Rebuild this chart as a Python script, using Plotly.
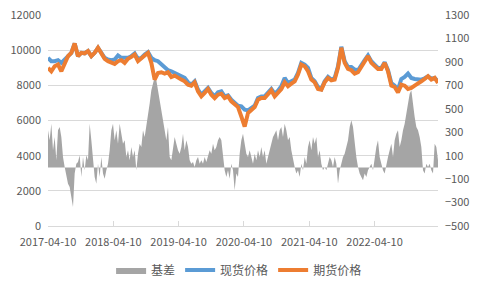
import pandas as pd
import plotly.graph_objects as go

start_date = "2017-04-10"
end_date = "2023-03-31"

basis = [
    316, 231, 373, 146, 259, 60, 316, 345, 259, 89, 3, -82, -139, -167, -253, -338, -53, 32, 46, 103,
    -82, 89, -25, 103, 60, 373, 231, 46, -82, -139, 32, -82, 89, -53, -96, -25, 32, 146, 316, 373,
    231, 316, 202, 373, 288, 202, 231, 89, 146, 60, 174, 89, 146, -25, 117, 202, 174, 316, 259, 345,
    430, 544, 658, 714, 771, 743, 658, 601, 487, 430, 316, 231, 345, 89, 60, 174, 259, 202, 146,
    117, 174, 288, 146, 231, 174, 60, 32, 46, 3, 60, 89, 32, 60, 32, 89, 46, 89, 146, 117,
    202, 146, 174, 231, 259, 231, 89, -25, -82, -25, -96, 32, -25, -196, -53, -82, 117, 231, 288, 202,
    117, 89, 146, 89, 32, 117, 60, 146, 89, 174, 89, 146, 32, 89, 146, 202, 259, 288, 316, 231,
    316, 345, 259, 373, 316, 231, 259, 146, 60, 3, -53, -25, -82, 32, -25,
    89, 32, 174, 231, 146, 259, 202, 259, 89, 146, 32, -25, 3, -25, 32, 89, 60, 3, 89, 32,
    -139, -25, 32, 89, 117, 174, 231, 345, 402, 345, 202, 89, 3, -53, -82, -110, -53, -82, -25, 3,
    32, -25, 89, 174, 231, 89, 32, -25, -53, 32, 89, 146, 202, 89, 231, 288, 316, 174, 231, 316,
    373, 458, 544, 629, 658, 515, 430, 345, 316, 259, 174, -25, -53, 32, 3, 32, -25, -53, 202, 174, 60,
]

spot = [
    9563, 9373, 9373, 9430, 9277, 9468, 9696, 9849, 10382, 9658, 9849, 9811, 9944, 9658, 9849, 10135, 9849, 9563, 9468, 9430,
    9468, 9696, 9563, 9563, 9563, 9658, 9811, 9506, 9563, 9754, 9887, 9563, 9430, 9373, 9182, 8992, 8858, 8801, 8706, 8668,
    8553, 8420, 8172, 8039, 8230, 7753, 7468, 7658, 7849, 7563, 7372, 7601, 7658, 7372, 7430, 7182, 6991, 6839, 6801, 6610,
    6572, 6706, 6839, 7277, 7372, 7372, 7563, 7791, 7525, 7696, 7944, 8420, 8134, 8230, 8325, 8706, 9277, 9182,
    8992, 8420, 8230, 7906, 7791, 8230, 8477, 8325, 8420, 9087, 10192, 9373, 9049, 9049, 8896, 8858, 9182, 9430, 9696, 9373,
    9182, 8992, 8992, 9315, 8858, 8134, 7982, 7753, 8363, 8477, 8668, 8420, 8363, 8363, 8325, 8401, 8515, 8382, 8420, 8230,
]

futures = [
    8992, 8801, 9087, 9182, 8801, 9277, 9658, 9849, 10382, 9658, 9849, 9811, 9944, 9658, 9849, 10135, 9849, 9506, 9373, 9277,
    9220, 9373, 9430, 9277, 9506, 9620, 9754, 9373, 9506, 9696, 9849, 9277, 8325, 8706, 8744, 8668, 8744, 8477, 8553, 8420,
    8325, 8230, 8039, 7982, 8172, 7658, 7372, 7563, 7791, 7468, 7277, 7468, 7525, 7277, 7372, 7087, 6896, 6763, 6229, 5658,
    6420, 6610, 6763, 7182, 7277, 7277, 7468, 7715, 7372, 7563, 7791, 8172, 7944, 8096, 8230, 8611, 9182, 9087,
    8801, 8325, 8172, 7791, 7753, 8172, 8420, 8287, 8325, 8992, 10135, 9277, 8934, 8858, 8668, 8744, 9087, 9373, 9658, 9277,
    9125, 8934, 8934, 9277, 8801, 7982, 7906, 7601, 8039, 7982, 7791, 7849, 7982, 8134, 8230, 8363, 8515, 8325, 8420, 8134,
]

tick_dates = ["2017-04-10", "2018-04-10", "2019-04-10", "2020-04-10", "2021-04-10", "2022-04-10"]
left_ticks = [0, 2000, 4000, 6000, 8000, 10000, 12000]
right_ticks = [-500, -300, -100, 100, 300, 500, 700, 900, 1100, 1300]

basis_dates = pd.date_range(start_date, end_date, periods=len(basis))
price_dates = pd.date_range(start_date, end_date, periods=len(spot))

FONT = "Noto Sans CJK SC"
TXT = "#595959"
GRID = "#D9D9D9"

fig = go.Figure()
fig.add_trace(go.Scatter(
    x=basis_dates, y=basis, name="基差", yaxis="y", mode="lines",
    line=dict(width=0, color="#A5A5A5"), fill="tozeroy", fillcolor="#A5A5A5",
))
fig.add_trace(go.Scatter(
    x=price_dates, y=spot, name="现货价格", yaxis="y2", mode="lines",
    line=dict(width=4, color="#5B9BD5"),
))
fig.add_trace(go.Scatter(
    x=price_dates, y=futures, name="期货价格", yaxis="y2", mode="lines",
    line=dict(width=4, color="#ED7D31"),
))

fig.update_layout(
    width=480, height=289,
    margin=dict(l=48, r=42, t=15, b=63, autoexpand=False),
    paper_bgcolor="white", plot_bgcolor="white",
    font=dict(family=FONT, size=11, color=TXT),
    showlegend=True,
    legend=dict(orientation="h", x=0.49, xanchor="center",
                yref="container", y=0.066, yanchor="middle",
                font=dict(size=12, color=TXT), itemwidth=30, traceorder="normal"),
    xaxis=dict(
        type="date", range=[start_date, end_date],
        tickvals=tick_dates, ticktext=tick_dates,
        showgrid=False, showline=True, linecolor=GRID, linewidth=1,
        ticks="inside", ticklen=5, tickcolor=GRID,
        tickfont=dict(size=11, color=TXT), ticklabelstandoff=6,
    ),
    yaxis=dict(
        side="right", range=[-500, 1300], tickvals=right_ticks, tickformat="d",
        showgrid=False, zeroline=False, showline=False,
        tickfont=dict(size=11, color=TXT), ticklabelstandoff=6,
    ),
    yaxis2=dict(
        overlaying="y", side="left", range=[0, 12000], tickvals=left_ticks, tickformat="d",
        showgrid=True, gridcolor=GRID, gridwidth=1, zeroline=False, showline=False,
        tickfont=dict(size=11, color=TXT), ticklabelstandoff=6,
    ),
)

fig.write_html("out.html")
